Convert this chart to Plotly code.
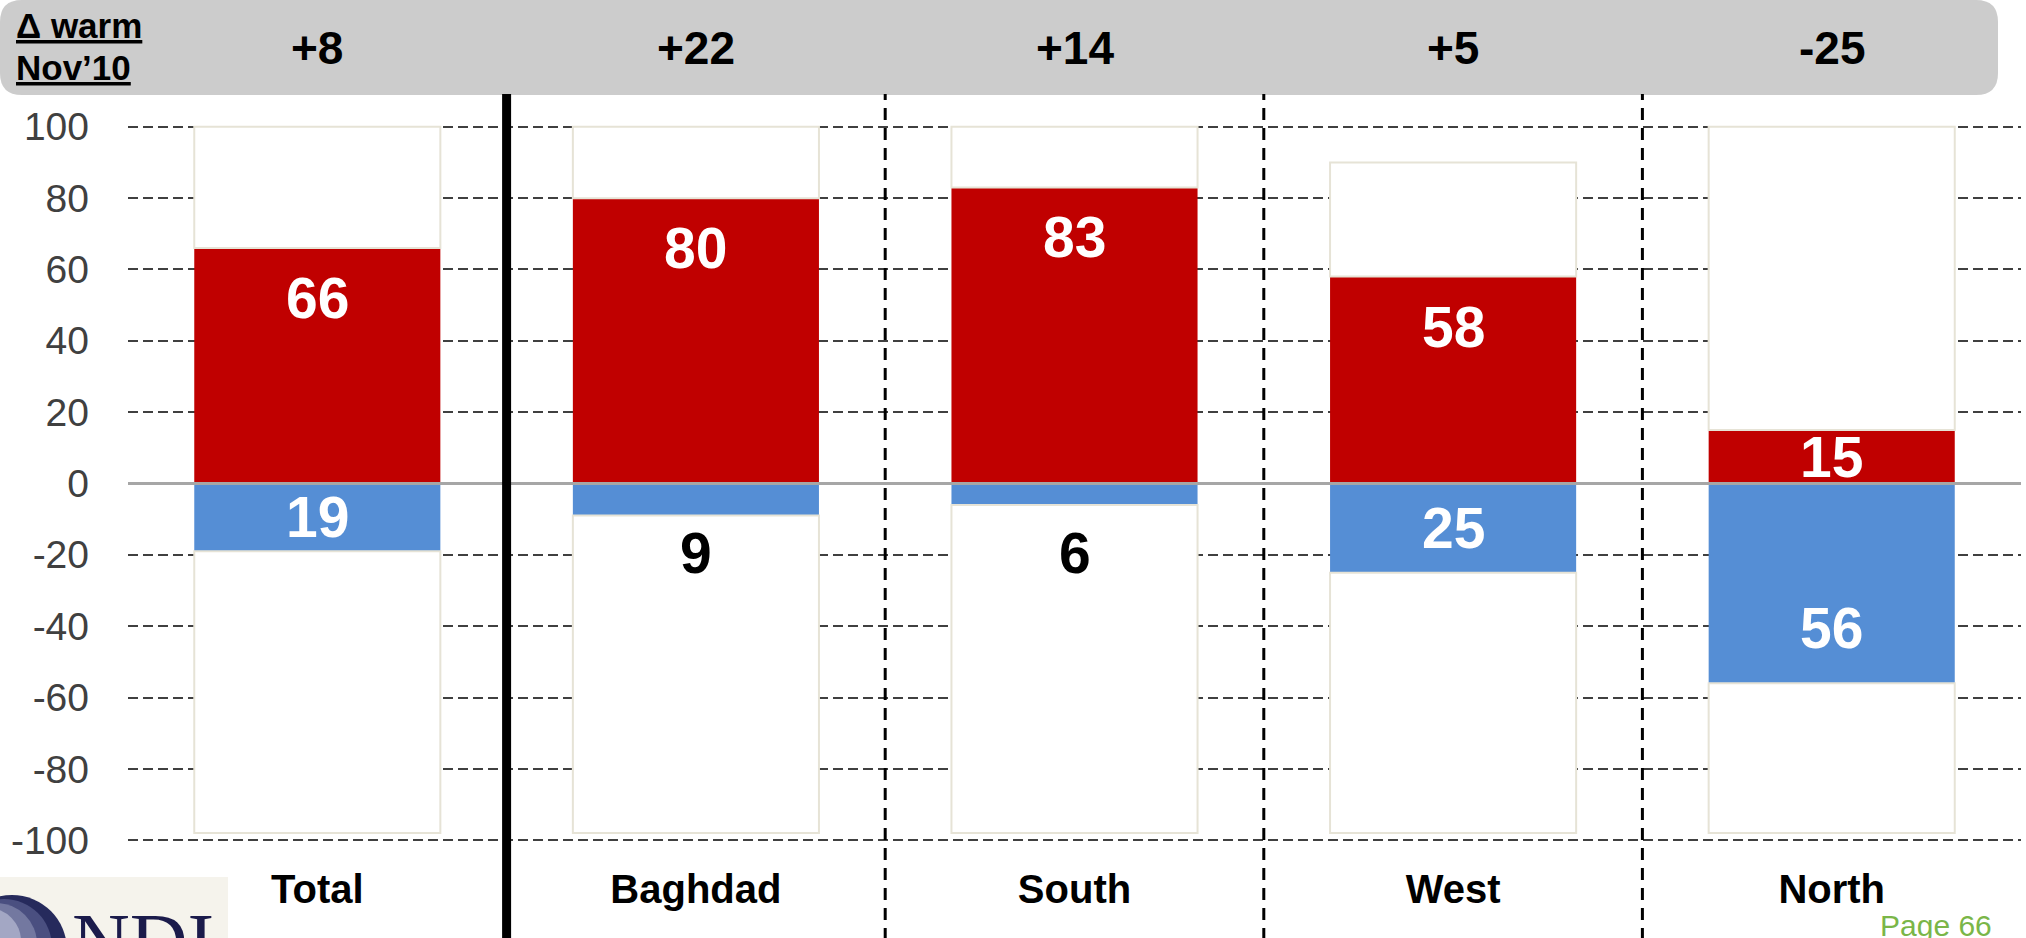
import plotly.graph_objects as go

# ---- data -------------------------------------------------------------
regions = ["Total", "Baghdad", "South", "West", "North"]
warm = [66, 80, 83, 58, 15]          # red, above zero
cold = [19, 9, 6, 25, 56]            # blue, below zero
upper_extent = [100, 100, 100, 90, 100]   # top of the framed column
lower_extent = [98, 98, 98, 98, 98]       # depth of the framed column
delta_warm = [8, 22, 14, 5, -25]          # change vs Nov'10
y_ticks = [-100, -80, -60, -40, -20, 0, 20, 40, 60, 80, 100]
y_tick_text = [str(v) for v in y_ticks]   # plain hyphen for negatives

# ---- page geometry ----------------------------------------------------
W, H = 2026, 938
ML, MR, MT, MB = 128, 5, 125, 96
PW, PH = W - ML - MR, H - MT - MB

FONT = "Liberation Sans, Arial, sans-serif"
RED, BLUE = "#C00000", "#558ED5"
FRAME = "#E6E3D6"


def px(x):
    return (x - ML) / PW


def py(y):
    return (H - MB - y) / PH


def rounded_rect(x0, y0, x1, y1, r):
    rx, ry = r / PW, r / PH
    a, b, c, d = px(x0), px(x1), py(y0), py(y1)   # c = top, d = bottom
    return (f"M {a+rx},{c} L {b-rx},{c} Q {b},{c} {b},{c-ry} "
            f"L {b},{d+ry} Q {b},{d} {b-rx},{d} L {a+rx},{d} "
            f"Q {a},{d} {a},{d+ry} L {a},{c-ry} Q {a},{c} {a+rx},{c} Z")


top_rest = [u - w for u, w in zip(upper_extent, warm)]
bottom_rest = [-(l - c) for l, c in zip(lower_extent, cold)]

fig = go.Figure()
common = dict(x=regions, width=0.65, hoverinfo="skip")
fig.add_trace(go.Bar(y=warm, marker=dict(color=RED, line=dict(width=0)), **common))
fig.add_trace(go.Bar(y=top_rest, marker=dict(color="white", line=dict(color=FRAME, width=2)), **common))
fig.add_trace(go.Bar(y=[-c for c in cold], marker=dict(color=BLUE, line=dict(width=0)), **common))
fig.add_trace(go.Bar(y=bottom_rest, marker=dict(color="white", line=dict(color=FRAME, width=2)), **common))

annotations = []
# value labels on the red bars
for r, v in zip(regions, warm):
    annotations.append(dict(x=r, y=max(v - 14, v / 2), xref="x", yref="y",
                            text=f"<b>{v}</b>", showarrow=False,
                            font=dict(family=FONT, size=57, color="white")))
# value labels on the blue bars (small values sit below the bar in black)
OUTSIDE_LABEL_Y = -19.5
for r, v in zip(regions, cold):
    if v >= 10:
        yy, col = -max(v - 15.5, v / 2), "white"
    else:
        yy, col = OUTSIDE_LABEL_Y, "black"
    annotations.append(dict(x=r, y=yy, xref="x", yref="y",
                            text=f"<b>{v}</b>", showarrow=False,
                            font=dict(family=FONT, size=57, color=col)))
# header row with the change figures
for r, d in zip(regions, delta_warm):
    annotations.append(dict(x=r, y=py(48), xref="x", yref="paper",
                            xanchor="center", yanchor="middle",
                            text=f"<b>{d:+d}</b>", showarrow=False,
                            font=dict(family=FONT, size=46, color="black")))
annotations.append(dict(x=px(14), y=py(26), xref="paper", yref="paper",
                        xanchor="left", yanchor="middle",
                        text="<b><u>Δ warm</u></b>", showarrow=False,
                        font=dict(family=FONT, size=35, color="black")))
annotations.append(dict(x=px(14), y=py(68), xref="paper", yref="paper",
                        xanchor="left", yanchor="middle",
                        text="<b><u>Nov’10</u></b>", showarrow=False,
                        font=dict(family=FONT, size=35, color="black")))
# footer: logo lettering and page number
annotations.append(dict(x=px(70), y=py(942), xref="paper", yref="paper",
                        xanchor="left", yanchor="middle", text="NDI", showarrow=False,
                        font=dict(family="Liberation Serif, Times New Roman, serif",
                                  size=80, color="#1B1B4B")))
annotations.append(dict(x=px(1878), y=py(907), xref="paper", yref="paper",
                        xanchor="left", yanchor="top", text="Page 66", showarrow=False,
                        font=dict(family=FONT, size=30, color="#7AB648")))

shapes = []
# grey header band
shapes.append(dict(type="path", xref="paper", yref="paper",
                   path=rounded_rect(0, 0, 1998, 95, 22),
                   fillcolor="#CCCCCC", line=dict(width=0), layer="below"))
# zero line
shapes.append(dict(type="line", xref="paper", yref="y", x0=0, x1=1, y0=0, y1=0,
                   line=dict(color="#A6A6A6", width=3), layer="above"))
# separators between regions
shapes.append(dict(type="line", xref="x", yref="paper", x0=0.5, x1=0.5,
                   y0=py(H + 2), y1=py(94), line=dict(color="black", width=9), layer="above"))
for xs in (1.5, 2.5, 3.5):
    shapes.append(dict(type="line", xref="x", yref="paper", x0=xs, x1=xs,
                       y0=py(H + 2), y1=py(94),
                       line=dict(color="black", width=3, dash="12px,8px"), layer="above"))
# logo backdrop and globe
shapes.append(dict(type="rect", xref="paper", yref="paper", x0=px(0), x1=px(228),
                   y0=py(H + 2), y1=py(877), fillcolor="#F5F3EC", line=dict(width=0)))
for cx, cy, rr, colr in [(12, 950, 55, "#262A5C"), (4, 947, 48, "#4A4F80"),
                         (-4, 944, 41, "#7378A0"), (-12, 941, 33, "#A3A7C4")]:
    shapes.append(dict(type="circle", xref="paper", yref="paper",
                       x0=px(cx - rr), x1=px(cx + rr), y0=py(cy + rr), y1=py(cy - rr),
                       fillcolor=colr, line=dict(width=0)))

fig.update_layout(
    width=W, height=H,
    margin=dict(l=ML, r=MR, t=MT, b=MB),
    paper_bgcolor="white", plot_bgcolor="white",
    barmode="relative", showlegend=False,
    font=dict(family=FONT),
    xaxis=dict(type="category", range=[-0.5, 4.5], showgrid=False, zeroline=False,
               ticks="", showline=False, ticklabelstandoff=20,
               tickfont=dict(family=FONT, size=40, color="black", weight="bold")),
    yaxis=dict(range=[-100.5, 100.5], tickvals=y_ticks, ticktext=y_tick_text,
               showgrid=True, gridcolor="#404040", griddash="10px,5px", gridwidth=2,
               zeroline=False, ticks="", showline=False, ticklabelstandoff=38,
               tickfont=dict(family=FONT, size=39, color="#404040")),
    shapes=shapes, annotations=annotations,
)

fig.write_html("out.html")
